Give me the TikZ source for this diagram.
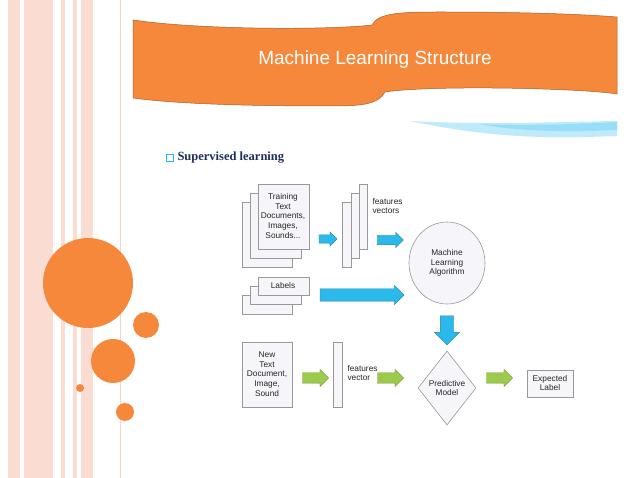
\documentclass[tikz,border=0pt]{standalone}
\usepackage{fontspec}
\setmainfont{Liberation Sans}
\newfontfamily\serifb{Liberation Serif}
\usetikzlibrary{shapes.geometric,shapes.arrows}
\definecolor{org}{HTML}{F6883B}
\definecolor{pinkst}{HTML}{FBDCD3}
\definecolor{barrow}{HTML}{2BB8EA}
\definecolor{garrow}{HTML}{9CCB4C}
\definecolor{boxf}{HTML}{F5F5FA}
\definecolor{navy}{HTML}{1F2F5A}
\begin{document}
\begin{tikzpicture}[x=1pt,y=-1pt,
  doc/.style={draw=gray!80,fill=boxf,line width=0.6pt},
  lbl/.style={font=\fontsize{8.3}{9.6}\selectfont,align=center,text=black!85},
  barr/.style={single arrow,draw=barrow!70!black,fill=barrow,line width=0.3pt,inner xsep=0pt,anchor=center},
  garr/.style={single arrow,draw=garrow!70!black,fill=garrow,line width=0.3pt,inner xsep=0pt,inner ysep=5pt,single arrow head extend=3.5pt,minimum height=26pt,anchor=center},
  dot/.style={circle,fill=org,inner sep=0pt}]
\useasboundingbox (0,0) rectangle (638,478);
\fill[white] (0,0) rectangle (638,478);
% left stripes
\foreach \a/\b in {8/20,24/53,61/65,73/77,81/93} \fill[pinkst] (\a,0) rectangle (\b,478);
\draw[pinkst!80!red!60,line width=0.8pt] (120,0) -- (120,478);
% banner
\fill[org,draw=org!70!black,line width=0.5pt] (133,20) .. controls (200,30) and (330,30) .. (372,25) .. controls (378,13) and (400,12) .. (440,12) .. controls (520,12) and (580,14) .. (617,17)
 -- (617,94) .. controls (580,88) and (430,85) .. (385,92) .. controls (378,105) and (360,106) .. (330,106) .. controls (230,106) and (170,103) .. (133,98) -- cycle;
\node[text=white,font=\fontsize{19}{22}\selectfont] (title) at (375,60) {Machine Learning Structure};
% swoosh
\fill[cyan!25] (410,121) .. controls (480,125) and (560,122) .. (617,121) -- (617,136) .. controls (560,138) and (500,140) .. (410,121) -- cycle;
\fill[cyan!40] (480,124) .. controls (530,126) and (580,124) .. (617,122) -- (617,130) .. controls (570,132) and (520,132) .. (480,124) -- cycle;
% heading
\node[draw=barrow,fill=white,minimum size=7pt,inner sep=0pt,line width=0.8pt] (chk) at (170,158) {};
\node[anchor=west,text=navy,font=\serifb\bfseries\fontsize{12.5}{14}\selectfont] (head) at (174,158) {Supervised learning};
% left circles
\node[dot,minimum size=90pt] (c1) at (88,283) {};
\node[dot,minimum size=26pt] (c2) at (146,325) {};
\node[dot,minimum size=44pt] (c3) at (113,361) {};
\node[dot,minimum size=8pt] (c4) at (80,388) {};
\node[dot,minimum size=18pt] (c5) at (125,412) {};
% training docs
\draw[doc] (242,202) rectangle (292,267);
\draw[doc] (250,193) rectangle (301,258);
\draw[doc] (258,184) rectangle (309,249);
\node[lbl] (train) at (283,216) {Training\\Text\\Documents,\\Images,\\Sounds...};
% feature vectors
\draw[doc] (342,202) rectangle (351,267);
\draw[doc] (351,193) rectangle (359,258);
\draw[doc] (359,184) rectangle (367,249);
\node[lbl,align=left,anchor=west] (fv) at (369,206) {features\\vectors};
% labels
\draw[doc] (242,295) rectangle (292,314);
\draw[doc] (250,286) rectangle (301,304);
\draw[doc] (258,277) rectangle (309,295);
\node[lbl] (labels) at (283,286) {Labels};
% ML algorithm
\node[ellipse,doc,minimum width=76pt,minimum height=82pt] (mla) at (447,263) {};
\node[lbl] (mlat) at (447,263) {Machine\\Learning\\Algorithm};
% blue arrows
\node[barr,minimum height=18pt,inner ysep=4pt,single arrow head extend=3pt] (a1) at (326,239) {};
\node[barr,minimum height=26pt,inner ysep=4.5pt,single arrow head extend=3pt] (a2) at (388,240) {};
\node[barr,minimum height=84pt,inner ysep=6pt,single arrow head extend=3.5pt] (a3) at (359,295) {};
\node[barr,minimum height=29pt,inner ysep=6.5pt,single arrow head extend=6pt,rotate=-90] (a4) at (447,327) {};
% bottom row
\draw[doc] (242,342) rectangle (292,407);
\node[lbl] (new) at (267,374) {New\\Text\\Document,\\Image,\\Sound};
\draw[doc] (333,342) rectangle (342,407);
\node[lbl,align=left,anchor=west] (fv2) at (344,373) {features\\vector};
\node[diamond,doc,minimum width=58pt,minimum height=74pt,inner sep=0pt] (pm) at (447,388) {};
\node[lbl] (pmt) at (447,388) {Predictive\\Model};
\draw[doc] (527,370) rectangle (573,397);
\node[lbl] (exp) at (550,383) {Expected\\Label};
\node[garr] (g1) at (313,378) {};
\node[garr] (g2) at (388,378) {};
\node[garr] (g3) at (497,378) {};
\end{tikzpicture}
\end{document}
